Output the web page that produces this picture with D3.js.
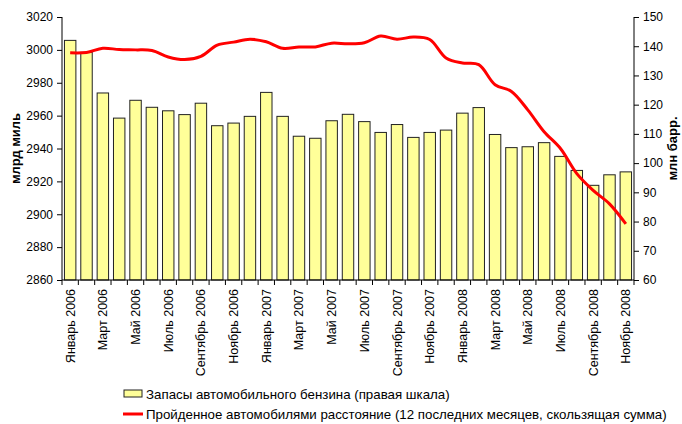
<!DOCTYPE html>
<html><head><meta charset="utf-8">
<script src="https://cdn.jsdelivr.net/npm/d3@7"></script>
<style>
body{margin:0;background:#fff;}
svg{display:block;font-family:"Liberation Sans",Arial,sans-serif;}
</style></head>
<body><svg id="c" width="682" height="424"></svg>
<script>
const monthNames = ["Январь","Февраль","Март","Апрель","Май","Июнь","Июль","Август","Сентябрь","Октябрь","Ноябрь","Декабрь"];
const years = [2006, 2007, 2008];
const categories = [];
years.forEach(y => monthNames.forEach(m => categories.push(m + " " + y)));
categories.length = 35; // Январь 2006 .. Ноябрь 2008

// Запасы автомобильного бензина, млн барр. (right scale)
const gasolineStocks = [142.0,137.9,124.0,115.4,121.5,119.1,117.9,116.6,120.5,112.8,113.7,116.0,
  124.2,116.0,109.2,108.5,114.5,116.7,114.2,110.5,113.2,108.8,110.5,111.3,
  117.1,119.0,109.8,105.3,105.6,107.0,102.3,97.5,92.4,96.0,97.0];
// Пройденное расстояние, млрд миль (left scale)
const milesTraveled = [2998.2,2998.4,3001.0,3000.2,3000.0,2999.6,2995.7,2994.1,2996.1,3002.9,3004.7,3006.5,
  3004.9,3001.0,3001.8,3001.8,3004.1,3003.7,3004.3,3008.4,3006.5,3007.8,3006.3,2995.1,
  2992.0,2991.0,2978.8,2974.7,2963.5,2950.2,2940.0,2924.7,2914.5,2906.3,2894.1];
const leftTicks = [2860,2880,2900,2920,2940,2960,2980,3000,3020];
const rightTicks = [60,70,80,90,100,110,120,130,140,150];

const svg = d3.select("#c");
const L = 62, R = 634, T = 17, B = 280;

const x = d3.scaleBand().domain(categories).range([L, R]).paddingInner(0.3).paddingOuter(0.15);
const yL = d3.scaleLinear().domain([2860, 3020]).range([B, T]);
const yR = d3.scaleLinear().domain([60, 150]).range([B, T]);

// bars
svg.append("g").selectAll("rect").data(gasolineStocks).join("rect")
  .attr("x", (d,i) => x(categories[i]))
  .attr("y", d => yR(d))
  .attr("width", x.bandwidth())
  .attr("height", d => yR(60) - yR(d))
  .attr("fill", "#FFFF99").attr("stroke", "#222").attr("stroke-width", 1);

// line
const line = d3.line()
  .x((d,i) => x(categories[i]) + x.bandwidth()/2)
  .y(d => yL(d))
  .curve(d3.curveCatmullRom.alpha(0.5));
svg.append("path").datum(milesTraveled).attr("d", line)
  .attr("fill","none").attr("stroke","#FF0000").attr("stroke-width",3).attr("stroke-linejoin","round");

// left axis
const gl = svg.append("g").attr("transform", `translate(${L},0)`)
  .call(d3.axisLeft(yL).tickValues(leftTicks).tickSize(5).tickPadding(4).tickFormat(d3.format("d")));
// right axis
const gr = svg.append("g").attr("transform", `translate(${R},0)`)
  .call(d3.axisRight(yR).tickValues(rightTicks).tickSize(5).tickPadding(4).tickFormat(d3.format("d")));
[gl, gr].forEach(g => {
  g.select(".domain").attr("stroke","#000").attr("d", `M0,${T}V${B}`);
  g.selectAll(".tick line").attr("stroke","#000");
  g.selectAll(".tick text").attr("font-size", 12).attr("fill","#000").attr("font-family","Liberation Sans, Arial, sans-serif");
});

// bottom axis
svg.append("line").attr("x1", L).attr("x2", R).attr("y1", B).attr("y2", B).attr("stroke","#000");
const step = (R - L) / categories.length;
const bounds = d3.range(categories.length + 1).map(i => L + i * step);
svg.append("g").selectAll("line").data(bounds).join("line")
  .attr("x1", d => d).attr("x2", d => d).attr("y1", B).attr("y2", B + 5).attr("stroke","#000");
svg.append("g").selectAll("text").data(categories.filter((c,i) => i % 2 === 0)).join("text")
  .attr("transform", d => `translate(${x(d) + x.bandwidth()/2 + 4.5},${B + 9}) rotate(-90)`)
  .attr("text-anchor","end").attr("font-size", 12.5).attr("fill","#000")
  .text(d => d);

// axis titles
svg.append("text").attr("transform", `translate(20,${(T+B)/2}) rotate(-90)`)
  .attr("text-anchor","middle").attr("font-size",13).attr("font-weight","bold").text("млрд миль");
svg.append("text").attr("transform", `translate(677,${(T+B)/2}) rotate(-90)`)
  .attr("text-anchor","middle").attr("font-size",13).attr("font-weight","bold").text("млн барр.");

// legend
const lg = svg.append("g");
lg.append("rect").attr("x",124).attr("y",390).attr("width",18).attr("height",7)
  .attr("fill","#FFFF99").attr("stroke","#222").attr("stroke-width",1);
lg.append("text").attr("x",146).attr("y",394).attr("dy","0.35em").attr("font-size",13.3).text("Запасы автомобильного бензина (правая шкала)");
lg.append("line").attr("x1",123).attr("x2",143).attr("y1",414).attr("y2",414).attr("stroke","#FF0000").attr("stroke-width",3);
lg.append("text").attr("x",146).attr("y",414).attr("dy","0.35em").attr("font-size",13.3).text("Пройденное автомобилями расстояние (12 последних месяцев, скользящая сумма)");
</script></body></html>
